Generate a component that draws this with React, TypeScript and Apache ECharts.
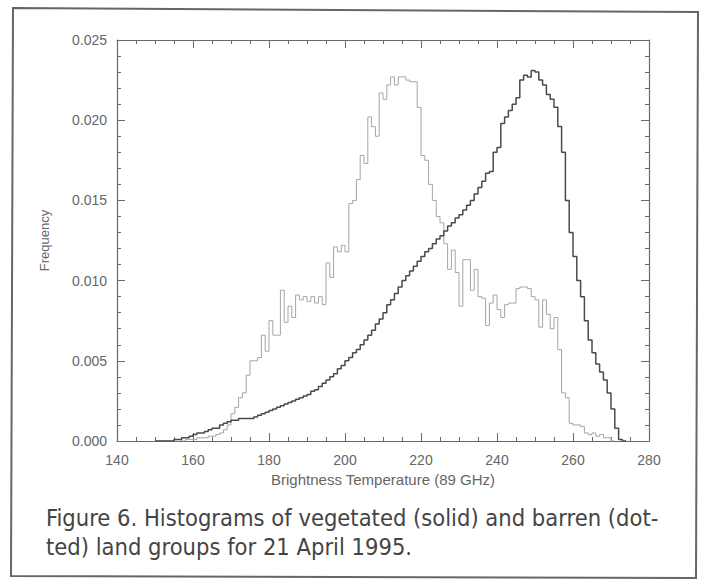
import React, { useEffect, useRef } from "react";
import * as echarts from "echarts";

const binStart = 150;
const vegetated = [
  0, 0, 0, 0, 0, 0.0001, 0.0001, 0.0002, 0.0002, 0.0003,
  0.0004, 0.0005, 0.0005, 0.0006, 0.0007, 0.0008, 0.0008, 0.0010, 0.0011, 0.0012,
  0.0013, 0.0013, 0.0014, 0.0014, 0.0014, 0.0014, 0.0015, 0.0016, 0.0017, 0.0018,
  0.0019, 0.0020, 0.0021, 0.0022, 0.0023, 0.0024, 0.0025, 0.0026, 0.0027, 0.0028,
  0.0029, 0.0031, 0.0032, 0.0034, 0.0036, 0.0038, 0.0040, 0.0042, 0.0045, 0.0047,
  0.0050, 0.0052, 0.0055, 0.0057, 0.0060, 0.0063, 0.0066, 0.0069, 0.0073, 0.0076,
  0.0080, 0.0085, 0.0088, 0.0092, 0.0096, 0.0100, 0.0103, 0.0106, 0.0109, 0.0112,
  0.0115, 0.0118, 0.0120, 0.0123, 0.0126, 0.0128, 0.0131, 0.0134, 0.0136, 0.0139,
  0.0141, 0.0144, 0.0147, 0.0150, 0.0154, 0.0158, 0.0162, 0.0167, 0.0168, 0.0180,
  0.0183, 0.0198, 0.0202, 0.0206, 0.0210, 0.0214, 0.0225, 0.0228, 0.0227, 0.0231,
  0.0230, 0.0225, 0.0222, 0.0216, 0.0213, 0.0208, 0.0196, 0.0180, 0.0150, 0.0130,
  0.0115, 0.0100, 0.0090, 0.0075, 0.0063, 0.0055, 0.0048, 0.0043, 0.0038, 0.0030,
  0.0020, 0.0008, 0.0001, 0,
];
const barren = [
  0, 0, 0, 0, 0, 0.0001, 0.0001, 0, 0.0001, 0.0001,
  0.0001, 0.0002, 0.0002, 0.0002, 0.0003, 0.0003, 0.0004, 0.0005, 0.0007, 0.0010,
  0.0017, 0.0021, 0.0027, 0.0030, 0.0041, 0.0050, 0.0050, 0.0052, 0.0066, 0.0056,
  0.0075, 0.0066, 0.0066, 0.0094, 0.0074, 0.0084, 0.0077, 0.0091, 0.0088, 0.0090,
  0.0087, 0.0090, 0.0086, 0.0090, 0.0085, 0.0111, 0.0102, 0.0121, 0.0118, 0.0122,
  0.0118, 0.0148, 0.0150, 0.0163, 0.0178, 0.0173, 0.0202, 0.0196, 0.0190, 0.0217,
  0.0213, 0.0222, 0.0227, 0.0222, 0.0227, 0.0227, 0.0225, 0.0224, 0.0224, 0.0208,
  0.0178, 0.0175, 0.0160, 0.0150, 0.0140, 0.0136, 0.0123, 0.0107, 0.0119, 0.0105,
  0.0084, 0.0113, 0.0113, 0.0094, 0.0107, 0.0090, 0.0089, 0.0072, 0.0086, 0.0091,
  0.0082, 0.0077, 0.0085, 0.0086, 0.0086, 0.0095, 0.0096, 0.0096, 0.0095, 0.0090,
  0.0088, 0.0071, 0.0088, 0.0079, 0.0070, 0.0077, 0.0057, 0.0030, 0.0027, 0.0011,
  0.0010, 0.0010, 0.0009, 0.0005, 0.0004, 0.0005, 0.0003, 0.0004, 0.0002, 0.0002,
  0,
];
const xTicks = [140, 160, 180, 200, 220, 240, 260, 280];
const yTicks = [0, 0.005, 0.01, 0.015, 0.02, 0.025];
const xTitle = "Brightness Temperature (89 GHz)";
const yTitle = "Frequency";
const captionLines = [
  "Figure 6. Histograms of vegetated (solid) and barren (dot-",
  "ted) land groups for 21 April 1995.",
];

function toSteps(vals: number[]) {
  const pts: [number, number][] = vals.map((v, i) => [binStart + i, v]);
  pts.push([binStart + vals.length, 0]);
  return pts;
}

export default function App() {
  const ref = useRef<HTMLDivElement>(null);
  useEffect(() => {
    if (!ref.current) return;
    const chart = echarts.init(ref.current, null, { renderer: "svg" });
    const axisCol = "#6a6a6a";
    const labelStyle = { color: "#666", fontFamily: "Liberation Sans, Arial, sans-serif", fontSize: 14 };
    const xBase = {
      type: "value" as const,
      min: xTicks[0],
      max: xTicks[xTicks.length - 1],
      interval: 20,
      axisLine: { show: true, onZero: false, lineStyle: { color: axisCol, width: 1.2 } },
      axisTick: { show: true, inside: true, length: 8, lineStyle: { color: axisCol } },
      minorTick: { show: true, splitNumber: 4, length: 4, lineStyle: { color: axisCol } },
      splitLine: { show: false },
    };
    const yBase = {
      type: "value" as const,
      min: yTicks[0],
      max: yTicks[yTicks.length - 1],
      interval: 0.005,
      axisLine: { show: true, onZero: false, lineStyle: { color: axisCol, width: 1.2 } },
      axisTick: { show: true, inside: true, length: 8, lineStyle: { color: axisCol } },
      minorTick: { show: true, splitNumber: 5, length: 4, lineStyle: { color: axisCol } },
      splitLine: { show: false },
    };
    chart.setOption({
      animation: false,
      backgroundColor: "#fff",
      grid: { left: 117, right: 53, top: 40, bottom: 140 },
      xAxis: [
        {
          ...xBase,
          position: "bottom",
          name: xTitle,
          nameLocation: "middle",
          nameGap: 31,
          nameTextStyle: { ...labelStyle, fontSize: 15 },
          axisLabel: { ...labelStyle, margin: 12 },
        },
        { ...xBase, position: "top", axisLabel: { show: false } },
      ],
      yAxis: [
        {
          ...yBase,
          position: "left",
          name: yTitle,
          nameLocation: "middle",
          nameGap: 66,
          nameRotate: 90,
          nameTextStyle: { ...labelStyle, fontSize: 13 },
          axisLabel: { ...labelStyle, margin: 10, formatter: (v: number) => v.toFixed(3) },
        },
        { ...yBase, position: "right", axisLabel: { show: false } },
      ],
      series: [
        {
          name: "vegetated",
          type: "line",
          step: "end",
          data: toSteps(vegetated),
          showSymbol: false,
          lineStyle: { color: "#4a4a4a", width: 1.5 },
          z: 3,
        },
        {
          name: "barren",
          type: "line",
          step: "end",
          data: toSteps(barren),
          showSymbol: false,
          lineStyle: { color: "#a5a5a5", width: 1 },
          z: 2,
        },
      ],
      graphic: [
        {
          type: "polygon",
          shape: { points: [[13, 8], [698, 12], [696, 578], [11, 576]] },
          style: { fill: "none", stroke: "#666", lineWidth: 2 },
          z: -1,
        },
        ...captionLines.map((t, i) => ({
          type: "text",
          left: 46,
          top: 506 + i * 29,
          style: {
            text: t,
            fill: "#444",
            font: "23.5px 'Liberation Sans Narrow', 'Arial Narrow', 'DejaVu Sans Condensed', sans-serif",
          },
        })),
      ],
    });
    return () => chart.dispose();
  }, []);
  return <div ref={ref} style={{ position: "fixed", left: 0, top: 0, width: 702, height: 581 }} />;
}
